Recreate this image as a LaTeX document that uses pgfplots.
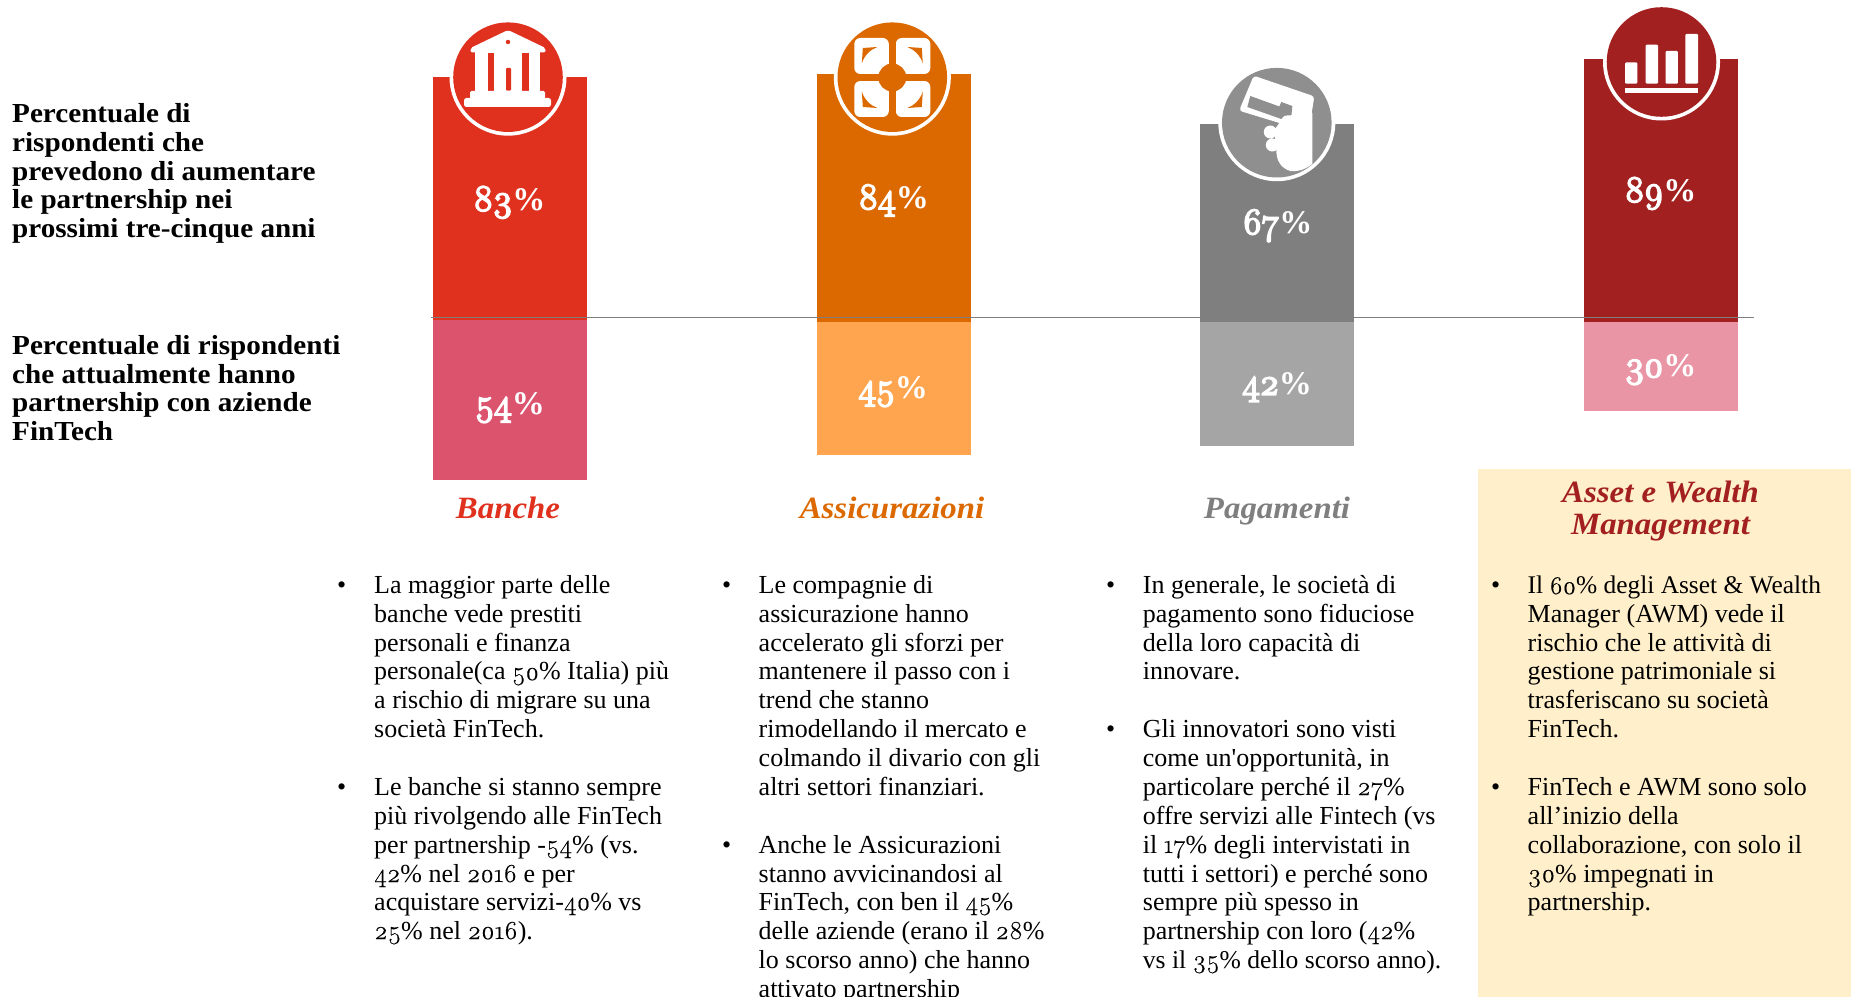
\documentclass[border=0pt]{standalone}
\usepackage{pgfplots}
\pgfplotsset{compat=1.18}
\usepackage{fontspec}
\setmainfont{Liberation Serif}
\newfontfamily\oldr[Numbers=OldStyle,FakeBold=0.4]{Latin Modern Roman}
\newfontfamily\oldb[Numbers=OldStyle,FakeBold=5,Scale=1.12,LetterSpace=-1]{Latin Modern Roman}
\newcommand\os[1]{{\oldr #1}}
\newcommand\ob[1]{{\mdseries\oldb #1}}
\definecolor{cred}{HTML}{E0301E}
\definecolor{corange}{HTML}{DC6900}
\definecolor{cgray}{HTML}{7F7F7F}
\definecolor{cdark}{HTML}{A32020}
\definecolor{lred}{HTML}{DC536E}
\definecolor{lorange}{HTML}{FFA550}
\definecolor{lgray}{HTML}{A5A5A5}
\definecolor{ldark}{HTML}{E995A6}
\definecolor{cbox}{HTML}{FFEFCA}
\definecolor{cicong}{HTML}{8F8F8F}
\newcommand\tl[3]{\node[anchor=base west,inner sep=0pt] at (#1,#2) {#3};}
\newcommand\tc[3]{\node[anchor=base,inner sep=0pt] at (#1,#2) {#3};}
\newcommand\rowy[1]{\the\numexpr 594+(2875*#1)/100\relax}
\newcommand\body[3]{\tl{#1}{\rowy{#2}}{#3}}
\newcommand\bul[2]{\tl{#1}{\rowy{#2}}{\textbullet}}
\begin{document}
\begin{tikzpicture}[x=1pt,y=1pt]
\useasboundingbox (0,2) rectangle (1851,998);
\clip (0,2) rectangle (1851,998);
\fill[cbox] (1478,0) rectangle (1851,529);
\begin{axis}[at={(0pt,0pt)},anchor=south west,scale only axis,width=1851pt,height=998pt,
  xmin=0,xmax=1851,ymin=-228.76,ymax=108.97,hide axis,
  ybar,bar width=154.5pt,bar shift=0pt]
\addplot[fill=cred,draw=none] coordinates {(510,83)};
\addplot[fill=corange,draw=none] coordinates {(894,84)};
\addplot[fill=cgray,draw=none] coordinates {(1277.2,67)};
\addplot[fill=cdark,draw=none] coordinates {(1661,89)};
\addplot[fill=lred,draw=none,yshift=1.5pt] coordinates {(510,-54)};
\addplot[fill=lorange,draw=none] coordinates {(894,-45)};
\addplot[fill=lgray,draw=none] coordinates {(1277.2,-42)};
\addplot[fill=ldark,draw=none] coordinates {(1661,-30)};
\end{axis}
\begin{scope}[yshift=998pt,x=1pt,y=-1pt]
\draw[cgray,line width=1pt] (431,318) -- (1754,318);
% icon rings
\foreach \cx/\cy/\col in {508/77.2/cred,892.3/77.2/corange,1276.8/122.7/cicong,1661.5/62/cdark}{
  \fill[white] (\cx,\cy) circle (58.5);
  \fill[\col] (\cx,\cy) circle (54.8);
}
% bank
\begin{scope}[white,fill=white]
\fill[rounded corners=2pt] (508,30) -- (545.5,48) -- (545.5,52.5) -- (470.5,52.5) -- (470.5,48) -- cycle;
\fill (475,52) rectangle (540,92);
\fill[cred] (488,53) rectangle (494,90.7);
\fill[cred] (522,53) rectangle (528.5,90.7);
\fill[cred,rounded corners=1pt] (506,90.7) -- (506,68) -- (511,68) -- (511,90.7) -- cycle;
\fill[rounded corners=1.5pt] (470,91) rectangle (545,99);
\fill[rounded corners=2.5pt] (464,98) rectangle (551,107);
\fill[cred] (508,42) circle (2.2);
\end{scope}
% lifebuoy
\begin{scope}[shift={(892.3,77.5)}]
\foreach \sx/\sy in {1/1,-1/1,1/-1,-1/-1}{
  \begin{scope}[xscale=\sx,yscale=\sy]
  \fill[white,rounded corners=6pt] (3.5,3.5) rectangle (38,39.5);
  \fill[corange] (15,30.5) .. controls (22,28) and (28,22) .. (30.5,14) -- (29.5,29.5) -- cycle;
  \end{scope}
}
\fill[corange] (-3.5,-40) rectangle (3.5,40);
\fill[corange] (-40,-3.5) rectangle (40,3.5);
\fill[corange] (0,0) circle (14);
\end{scope}
% card in hand
\fill[white,rounded corners=3pt] (1253.7,75.7) -- (1314.3,96.4) -- (1310.3,122) -- (1289.3,126) -- (1239.1,110.7) -- cycle;
\fill[cicong] (1250.3,96) -- (1279.3,106.5) -- (1281.3,102) -- (1292.3,106) -- (1291.3,117) -- (1281.3,119) -- (1247.3,107) -- cycle;
\fill[white] (1287.8,123) circle (7.5) (1270.3,132) circle (6.5) (1272.3,145) circle (6.5);
\fill[white] (1312.3,113) -- (1312.3,164) .. controls (1304.3,170) and (1297.3,172) .. (1290.3,171) .. controls (1280.3,168) and (1276.3,160) .. (1276.3,150) -- (1274.3,130) -- (1284.3,116) -- cycle;
% bar icon
\begin{scope}[white]
\fill[rounded corners=1pt] (1625,62.5) rectangle (1637.3,83.6);
\fill[rounded corners=1pt] (1645.7,44.6) rectangle (1658,83.6);
\fill[rounded corners=1pt] (1665.5,51) rectangle (1677.9,83.6);
\fill[rounded corners=1pt] (1685.3,34) rectangle (1698,83.6);
\fill (1625,87.9) rectangle (1698,92.9);
\end{scope}
% data labels
\begin{scope}[white,font=\fontsize{33}{36}\selectfont\bfseries]
\tc{509.5}{210.7}{\ob{83}\%}
\tc{893.7}{209}{\ob{84}\%}
\tc{1277.5}{234}{\ob{67}\%}
\tc{1660.6}{201.8}{\ob{89}\%}
\tc{510}{415}{\ob{54}\%}
\tc{893}{399}{\ob{45}\%}
\tc{1277}{394.6}{\ob{42}\%}
\tc{1660.6}{377}{\ob{30}\%}
\end{scope}
% left headings
\begin{scope}[font=\fontsize{27.5}{29}\selectfont\bfseries\addfontfeature{FakeStretch=1.06}]
\tl{12}{122.7}{Percentuale di}
\tl{12}{151.6}{rispondenti che}
\tl{12}{180.5}{prevedono di aumentare}
\tl{12}{209}{le partnership nei}
\tl{12}{237.7}{prossimi tre-cinque anni}
\tl{12}{355}{Percentuale di rispondenti}
\tl{12}{383.7}{che attualmente hanno}
\tl{12}{412}{partnership con aziende}
\tl{12}{440.3}{FinTech}
\end{scope}
% category titles
\begin{scope}[font=\fontsize{31}{32}\selectfont\bfseries\itshape\addfontfeature{FakeStretch=1.06}]
\tc{508}{519}{\textcolor{cred}{Banche}}
\tc{892}{519}{\textcolor{corange}{Assicurazioni}}
\tc{1277}{519}{\textcolor{cgray}{Pagamenti}}
\tc{1660.5}{503}{\textcolor{cdark}{Asset e Wealth}}
\tc{1660.5}{535}{\textcolor{cdark}{Management}}
\end{scope}
% body text
\begin{scope}[font=\fontsize{26}{29}\selectfont]
\bul{337}{0}\bul{337}{7}
\body{374}{0}{La maggior parte delle}
\body{374}{1}{banche vede prestiti}
\body{374}{2}{personali e finanza}
\body{374}{3}{personale(ca \os{50}\% Italia) più}
\body{374}{4}{a rischio di migrare su una}
\body{374}{5}{società FinTech.}
\body{374}{7}{Le banche si stanno sempre}
\body{374}{8}{più rivolgendo alle FinTech}
\body{374}{9}{per partnership -\os{54}\% (vs.}
\body{374}{10}{\os{42}\% nel \os{2016} e per}
\body{374}{11}{acquistare servizi-\os{40}\% vs}
\body{374}{12}{\os{25}\% nel \os{2016}).}
\bul{722}{0}\bul{722}{9}
\body{758.5}{0}{Le compagnie di}
\body{758.5}{1}{assicurazione hanno}
\body{758.5}{2}{accelerato gli sforzi per}
\body{758.5}{3}{mantenere il passo con i}
\body{758.5}{4}{trend che stanno}
\body{758.5}{5}{rimodellando il mercato e}
\body{758.5}{6}{colmando il divario con gli}
\body{758.5}{7}{altri settori finanziari.}
\body{758.5}{9}{Anche le Assicurazioni}
\body{758.5}{10}{stanno avvicinandosi al}
\body{758.5}{11}{FinTech, con ben il \os{45}\%}
\body{758.5}{12}{delle aziende (erano il \os{28}\%}
\body{758.5}{13}{lo scorso anno) che hanno}
\body{758.5}{14}{attivato partnership}
\bul{1106}{0}\bul{1106}{5}
\body{1142.7}{0}{In generale, le società di}
\body{1142.7}{1}{pagamento sono fiduciose}
\body{1142.7}{2}{della loro capacità di}
\body{1142.7}{3}{innovare.}
\body{1142.7}{5}{Gli innovatori sono visti}
\body{1142.7}{6}{come un\textquotesingle opportunità, in}
\body{1142.7}{7}{particolare perché il \os{27}\%}
\body{1142.7}{8}{offre servizi alle Fintech (vs}
\body{1142.7}{9}{il \os{17}\% degli intervistati in}
\body{1142.7}{10}{tutti i settori) e perché sono}
\body{1142.7}{11}{sempre più spesso in}
\body{1142.7}{12}{partnership con loro (\os{42}\%}
\body{1142.7}{13}{{\fontsize{25.6}{29}\selectfont vs il \os{35}\% dello scorso anno).}}
\bul{1491}{0}\bul{1491}{7}
\body{1527.5}{0}{{\fontsize{25.4}{29}\selectfont Il \os{60}\% degli Asset \& Wealth}}
\body{1527.5}{1}{Manager (AWM) vede il}
\body{1527.5}{2}{rischio che le attività di}
\body{1527.5}{3}{gestione patrimoniale si}
\body{1527.5}{4}{trasferiscano su società}
\body{1527.5}{5}{FinTech.}
\body{1527.5}{7}{FinTech e AWM sono solo}
\body{1527.5}{8}{all’inizio della}
\body{1527.5}{9}{collaborazione, con solo il}
\body{1527.5}{10}{\os{30}\% impegnati in}
\body{1527.5}{11}{partnership.}
\end{scope}
\end{scope}
\end{tikzpicture}
\end{document}
